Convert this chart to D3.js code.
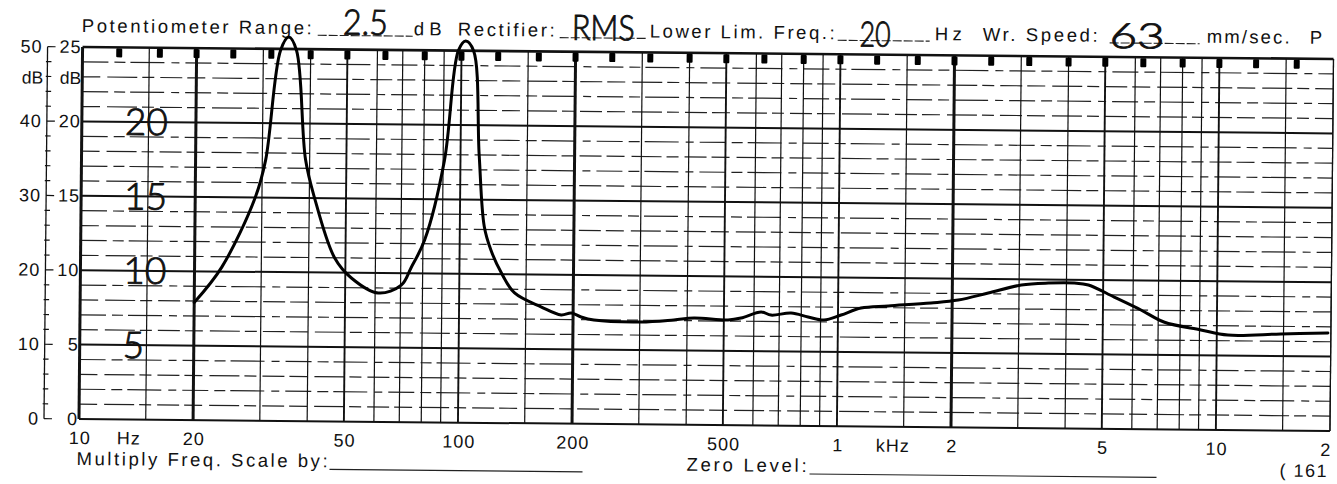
<!DOCTYPE html>
<html>
<head>
<meta charset="utf-8">
<script src="https://cdn.jsdelivr.net/npm/d3@7"></script>
<style>
  body { margin: 0; background: #fff; }
  svg { display: block; }
  .print { font-family: "Liberation Sans", Arial, sans-serif; fill: #111; }
  .hand { font-family: Lato, "Open Sans", sans-serif; font-weight: 300; fill: #111; stroke: #111; stroke-width: 0.9; }
</style>
</head>
<body>
<div id="wrapper"></div>
<script>
// impedance curve (inner 0-25 scale)
const freqs = [20, 23.6, 28.8, 30.6, 33.3, 35.0, 36.7, 39.0, 41.2, 46.8, 51.9, 61.1, 70.3, 74.6, 80.8,
  90.7, 98.1, 102.5, 107.6, 112, 116, 121, 129, 140, 165, 186, 198, 210, 227, 302, 369, 417, 513,
  555, 627, 666, 752, 834, 919, 1019, 1150, 1356, 1758, 2074, 2489, 3041, 3584, 4197, 4571, 5350,
  6300, 7245, 9074, 10700, 14760, 19640]
const levels = [7.9, 10.3, 15.0, 17.5, 24.9, 25.8, 24.9, 17.6, 15.1, 11.0, 9.65, 8.66, 9.2, 10.4, 12.25,
  17.6, 25.0, 25.65, 25.0, 18.0, 13.2, 11.6, 10.1, 8.75, 7.82, 7.3, 7.44, 7.18, 6.98, 6.88, 7.04, 7.18, 7.07,
  7.21, 7.63, 7.43, 7.58, 7.33, 7.13, 7.48, 7.96, 8.12, 8.35, 8.56, 9.05, 9.61, 9.76, 9.78, 9.66, 8.86,
  8.01, 7.22, 6.71, 6.38, 6.49, 6.59]

// chart paper
const gridMult = [1, 1.5, 2, 3, 4, 5, 6, 7, 8, 9]
const decades = [10, 100, 1000, 10000]
const thickFreqs = [10, 20, 200, 2000]
const mediumFreqs = [50, 100, 500, 1000, 5000, 10000]
const thirdOctave = [12.5, 16, 20, 25, 31.5, 40, 50, 63, 80, 100, 125, 160, 200, 250, 315, 400, 500, 630,
  800, 1000, 1250, 1600, 2000, 2500, 3150, 4000, 5000, 6300, 8000, 10000, 12500, 16000]
const tickFreqs = [10, 20, 50, 100, 200, 500, 1000, 2000, 5000, 10000, 20000]
const tickLabels = ["10", "20", "50", "100", "200", "500", "1", "2", "5", "10", "2"]
const scaleLevels = [0, 5, 10, 15, 20, 25]
const outerLabels = ["0", "10", "20", "30", "40", "50"]
const innerLabels = ["0", "5", "10", "15", "20", "25"]
const handLevels = [5, 10, 15, 20]

const width = 1337
const height = 484

const x = d3.scaleLog().domain([10, 20000]).range([79, 1330])
const y = d3.scaleLinear().domain([0, 25]).range([419, 47])

const svg = d3.select("#wrapper").append("svg")
  .attr("width", width)
  .attr("height", height)

svg.append("rect").attr("width", width).attr("height", height).attr("fill", "#fff")

// the scanned sheet sits slightly skewed
const page = svg.append("g").attr("transform", "rotate(0.55,79,419)")

let gridFreqs = []
decades.forEach(d => gridMult.forEach(m => gridFreqs.push(d * m)))
gridFreqs.push(20000)

// minor horizontal lines, broken like on the scan
page.append("g").selectAll("line")
  .data(d3.range(1, 25).filter(v => v % 5 != 0))
  .join("line")
  .attr("x1", x(10)).attr("x2", x(20000))
  .attr("y1", d => y(d)).attr("y2", d => y(d))
  .attr("stroke", "#222")
  .attr("stroke-width", 1.2)
  .attr("stroke-dasharray", (d, i) => i % 2 ? "26,6,11,5,34,7,8,6" : "18,7,30,5,12,6,22,5")

page.append("g").selectAll("line")
  .data(gridFreqs)
  .join("line")
  .attr("x1", d => x(d)).attr("x2", d => x(d))
  .attr("y1", y(25)).attr("y2", y(0))
  .attr("stroke", "#111")
  .attr("stroke-width", d => thickFreqs.includes(d) ? 3 : mediumFreqs.includes(d) ? 1.9 : 1.2)

page.append("g").selectAll("line")
  .data(scaleLevels)
  .join("line")
  .attr("x1", x(10)).attr("x2", x(20000))
  .attr("y1", d => y(d)).attr("y2", d => y(d))
  .attr("stroke", "#111")
  .attr("stroke-width", d => d == 25 ? 2.6 : 2)

// third-octave marks hanging from the top line
page.append("g").selectAll("rect")
  .data(thirdOctave)
  .join("rect")
  .attr("x", d => x(d) - 3).attr("y", y(25) + 1)
  .attr("width", 6).attr("height", 9).attr("rx", 1)
  .attr("fill", "#000")

// left level scale
const scaleX = 44
page.append("line")
  .attr("x1", scaleX).attr("x2", scaleX)
  .attr("y1", y(25)).attr("y2", y(0))
  .attr("stroke", "#111").attr("stroke-width", 1.3)
page.append("g").selectAll("line")
  .data(d3.range(0, 26))
  .join("line")
  .attr("x1", d => d % 5 == 0 ? scaleX : scaleX - 1.5)
  .attr("x2", d => d % 5 == 0 ? scaleX + 8 : scaleX + 4)
  .attr("y1", d => y(d)).attr("y2", d => y(d))
  .attr("stroke", "#111").attr("stroke-width", 1.2)

page.append("g").selectAll("text")
  .data(scaleLevels)
  .join("text")
  .attr("class", "print")
  .attr("x", 39).attr("y", d => y(d) + 6)
  .attr("text-anchor", "end")
  .attr("font-size", 18)
  .attr("letter-spacing", 1)
  .text((d, i) => outerLabels[i])
page.append("g").selectAll("text")
  .data(scaleLevels)
  .join("text")
  .attr("class", "print")
  .attr("x", 78).attr("y", d => y(d) + 6)
  .attr("text-anchor", "end")
  .attr("font-size", 18)
  .attr("letter-spacing", 1)
  .text((d, i) => innerLabels[i])
page.append("text").attr("class", "print").attr("x", 40).attr("y", 84)
  .attr("text-anchor", "end").attr("font-size", 17.5).text("dB")
page.append("text").attr("class", "print").attr("x", 78).attr("y", 84)
  .attr("text-anchor", "end").attr("font-size", 17.5).text("dB")

// hand-written level marks
page.append("g").selectAll("text")
  .data(handLevels)
  .join("text")
  .attr("class", "hand")
  .attr("x", 122).attr("y", d => y(d) + 13)
  .attr("font-size", 37)
  .text(d => d)

// frequency axis labels
page.append("g").selectAll("text")
  .data(tickFreqs)
  .join("text")
  .attr("class", "print")
  .attr("x", (d, i) => i == tickFreqs.length - 1 ? x(d) - 4 : x(d) + 1)
  .attr("y", 444)
  .attr("text-anchor", "middle")
  .attr("font-size", 18)
  .attr("letter-spacing", 1)
  .text((d, i) => tickLabels[i])
page.append("text").attr("class", "print").attr("x", 129).attr("y", 444)
  .attr("text-anchor", "middle").attr("font-size", 18).attr("letter-spacing", 1).text("Hz")
page.append("text").attr("class", "print").attr("x", 893).attr("y", 444)
  .attr("text-anchor", "middle").attr("font-size", 18).attr("letter-spacing", 1).text("kHz")

// header of the recorder form
const header = [
  { t: "Potentiometer Range:", x: 78, w: 230 },
  { t: "dB", x: 410, w: 28 },
  { t: "Rectifier:", x: 454, w: 97 },
  { t: "Lower Lim. Freq.:", x: 646, w: 185 },
  { t: "Hz", x: 931, w: 27 },
  { t: "Wr. Speed:", x: 979, w: 115 },
  { t: "mm/sec.", x: 1203, w: 83 },
  { t: "P", x: 1306, w: 13 }
]
page.append("g").selectAll("text")
  .data(header)
  .join("text")
  .attr("class", "print")
  .attr("x", d => d.x).attr("y", 32)
  .attr("font-size", 18.5)
  .attr("textLength", d => d.w)
  .attr("lengthAdjust", "spacing")
  .text(d => d.t)

const blanks = [[314, 409], [556, 644], [834, 926], [1106, 1196]]
page.append("g").selectAll("line")
  .data(blanks)
  .join("line")
  .attr("x1", d => d[0]).attr("x2", d => d[1])
  .attr("y1", 33).attr("y2", 33)
  .attr("stroke", "#222").attr("stroke-width", 1.1)
  .attr("stroke-dasharray", "9,2")

const filled = [
  { t: "2.5", x: 339, y: 32, w: 45 },
  { t: "RMS", x: 568, y: 35, w: 63 },
  { t: "20", x: 856, y: 39, w: 31 },
  { t: "63", x: 1106, y: 38, w: 55 }
]
page.append("g").selectAll("text")
  .data(filled)
  .join("text")
  .attr("class", "hand")
  .attr("x", d => d.x).attr("y", d => d.y)
  .attr("font-size", 35)
  .attr("textLength", d => d.w)
  .attr("lengthAdjust", "spacingAndGlyphs")
  .text(d => d.t)

// footer
page.append("text").attr("class", "print").attr("x", 77).attr("y", 465)
  .attr("font-size", 18.5).attr("textLength", 251).attr("lengthAdjust", "spacing")
  .text("Multiply Freq. Scale by:")
page.append("text").attr("class", "print").attr("x", 687).attr("y", 465)
  .attr("font-size", 18.5).attr("textLength", 120).attr("lengthAdjust", "spacing")
  .text("Zero Level:")
page.append("text").attr("class", "print").attr("x", 1280).attr("y", 465)
  .attr("font-size", 18).attr("letter-spacing", 1.5)
  .text("( 161")
page.append("g").selectAll("line")
  .data([[330, 583], [810, 1157]])
  .join("line")
  .attr("x1", d => d[0]).attr("x2", d => d[1])
  .attr("y1", 467).attr("y2", 467)
  .attr("stroke", "#222").attr("stroke-width", 1.1)

// recorded curve
const points = freqs.map((f, i) => [f, levels[i]])
const line = d3.line()
  .x(d => x(d[0]))
  .y(d => y(d[1]))
  .curve(d3.curveCatmullRom.alpha(0.5))

page.append("path")
  .datum(points)
  .attr("d", line)
  .attr("fill", "none")
  .attr("stroke", "#000")
  .attr("stroke-width", 3)
  .attr("stroke-linejoin", "round")
  .attr("stroke-linecap", "round")
</script>
</body>
</html>
